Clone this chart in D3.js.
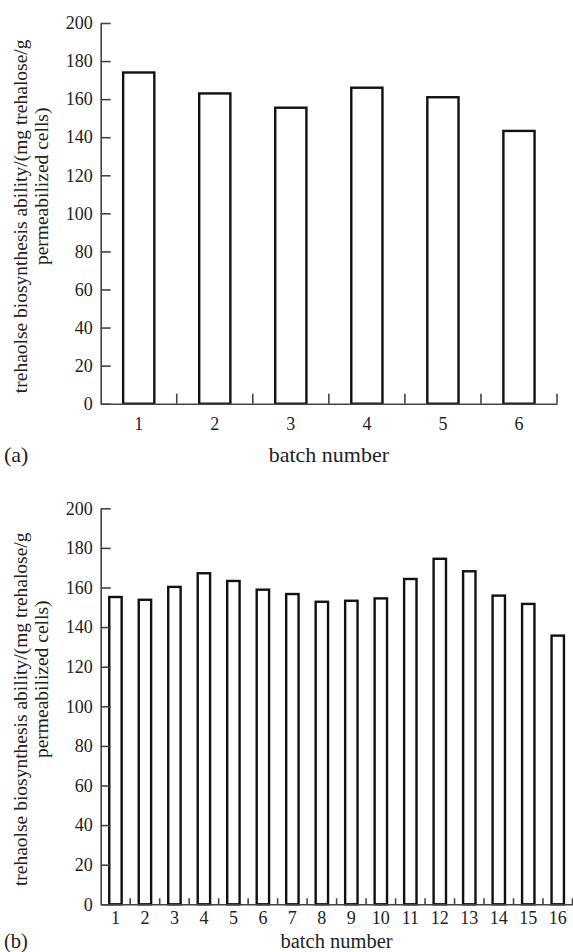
<!DOCTYPE html>
<html>
<head>
<meta charset="utf-8">
<script src="https://cdn.jsdelivr.net/npm/d3@7"></script>
<style>
  body { margin: 0; background: #fff; }
  svg { display: block; }
  svg text { font-family: "Liberation Serif", "Times New Roman", serif; }
</style>
</head>
<body>
<svg id="chart" width="573" height="952"></svg>
<script>
// panel (a)
var batchesA = ["1", "2", "3", "4", "5", "6"];
var valuesA = [174, 163, 155.5, 166, 161, 143.3];
// panel (b)
var batchesB = ["1", "2", "3", "4", "5", "6", "7", "8", "9", "10", "11", "12", "13", "14", "15", "16"];
var valuesB = [155.2, 153.8, 160.3, 167.2, 163.3, 158.9, 156.7, 152.8, 153.3, 154.5, 164.3, 174.5, 168.2, 155.9, 151.7, 135.7];
var yTicks = [0, 20, 40, 60, 80, 100, 120, 140, 160, 180, 200];

var yLine1 = "trehaolse biosynthesis ability/(mg trehalose/g";
var yLine2 = "permeabilized cells)";
var serif = "'Liberation Serif', 'Times New Roman', serif";

var svg = d3.select("#chart");

function drawPanel(p) {
  var x = d3.scaleBand()
      .domain(p.cats)
      .range([p.left, p.right])
      .paddingInner(p.pad)
      .paddingOuter(p.pad / 2);
  var y = d3.scaleLinear()
      .domain([0, 200])
      .range([p.bottom, p.top]);

  var g = svg.append("g");

  // bars
  g.selectAll("rect.bar")
      .data(p.vals)
    .enter().append("rect")
      .attr("class", "bar")
      .attr("x", function(d, i) { return x(p.cats[i]); })
      .attr("y", function(d) { return y(d); })
      .attr("width", x.bandwidth())
      .attr("height", function(d) { return y(0) - y(d); })
      .attr("fill", "#fff")
      .attr("stroke", "#111")
      .attr("stroke-width", 2.4);

  // y axis, ticks pointing inward
  var yAxis = g.append("g")
      .attr("transform", "translate(" + p.left + ",0)")
      .call(d3.axisLeft(y).tickValues(yTicks).tickSizeInner(-10).tickSizeOuter(0).tickPadding(8))
      .attr("font-family", serif)
      .attr("font-size", 18);
  yAxis.select(".domain").attr("stroke", "#444").attr("stroke-width", 1.6);
  yAxis.selectAll(".tick line").attr("stroke", "#444").attr("stroke-width", 1.6);
  yAxis.selectAll("text").attr("fill", "#222");

  // x axis, labels only
  var xAxis = g.append("g")
      .attr("transform", "translate(0," + p.bottom + ")")
      .call(d3.axisBottom(x).tickSize(0).tickPadding(p.labelPad))
      .attr("font-family", serif)
      .attr("font-size", 18);
  xAxis.select(".domain").attr("stroke", "#444").attr("stroke-width", 1.6);
  xAxis.selectAll("text").attr("fill", "#222");

  // separator ticks between batches
  g.selectAll("line.sep")
      .data(p.cats)
    .enter().append("line")
      .attr("class", "sep")
      .attr("x1", function(d) { return x(d) + x.bandwidth() / 2 + x.step() / 2; })
      .attr("x2", function(d) { return x(d) + x.bandwidth() / 2 + x.step() / 2; })
      .attr("y1", p.bottom)
      .attr("y2", p.bottom - p.sepLen)
      .attr("stroke", "#444")
      .attr("stroke-width", 1.6);

  // axis titles
  var mid = (p.top + p.bottom) / 2;
  g.append("text")
      .attr("transform", "translate(27," + (mid + 3) + ") rotate(-90)")
      .attr("text-anchor", "middle")
      .attr("font-family", serif)
      .attr("font-size", 19.5)
      .attr("fill", "#222")
      .text(yLine1);
  g.append("text")
      .attr("transform", "translate(48," + (mid - 27) + ") rotate(-90)")
      .attr("text-anchor", "middle")
      .attr("font-family", serif)
      .attr("font-size", 19.5)
      .attr("fill", "#222")
      .text(yLine2);

  g.append("text")
      .attr("x", (p.left + p.right) / 2)
      .attr("y", p.titleY)
      .attr("text-anchor", "middle")
      .attr("font-family", serif)
      .attr("font-size", p.titleSize)
      .attr("fill", "#222")
      .text("batch number");

  g.append("text")
      .attr("x", 4)
      .attr("y", p.titleY)
      .attr("font-family", serif)
      .attr("font-size", p.titleSize)
      .attr("fill", "#222")
      .text(p.tag);
}

drawPanel({ cats: batchesA, vals: valuesA, left: 100.7, right: 557, top: 23, bottom: 403.7,
            pad: 0.59, labelPad: 14, sepLen: 10, titleY: 462, titleSize: 22, tag: "(a)" });
drawPanel({ cats: batchesB, vals: valuesB, left: 100.7, right: 572.5, top: 508.3, bottom: 904.3,
            pad: 0.58, labelPad: 7, sepLen: 6, titleY: 948, titleSize: 20.5, tag: "(b)" });
</script>
</body>
</html>
